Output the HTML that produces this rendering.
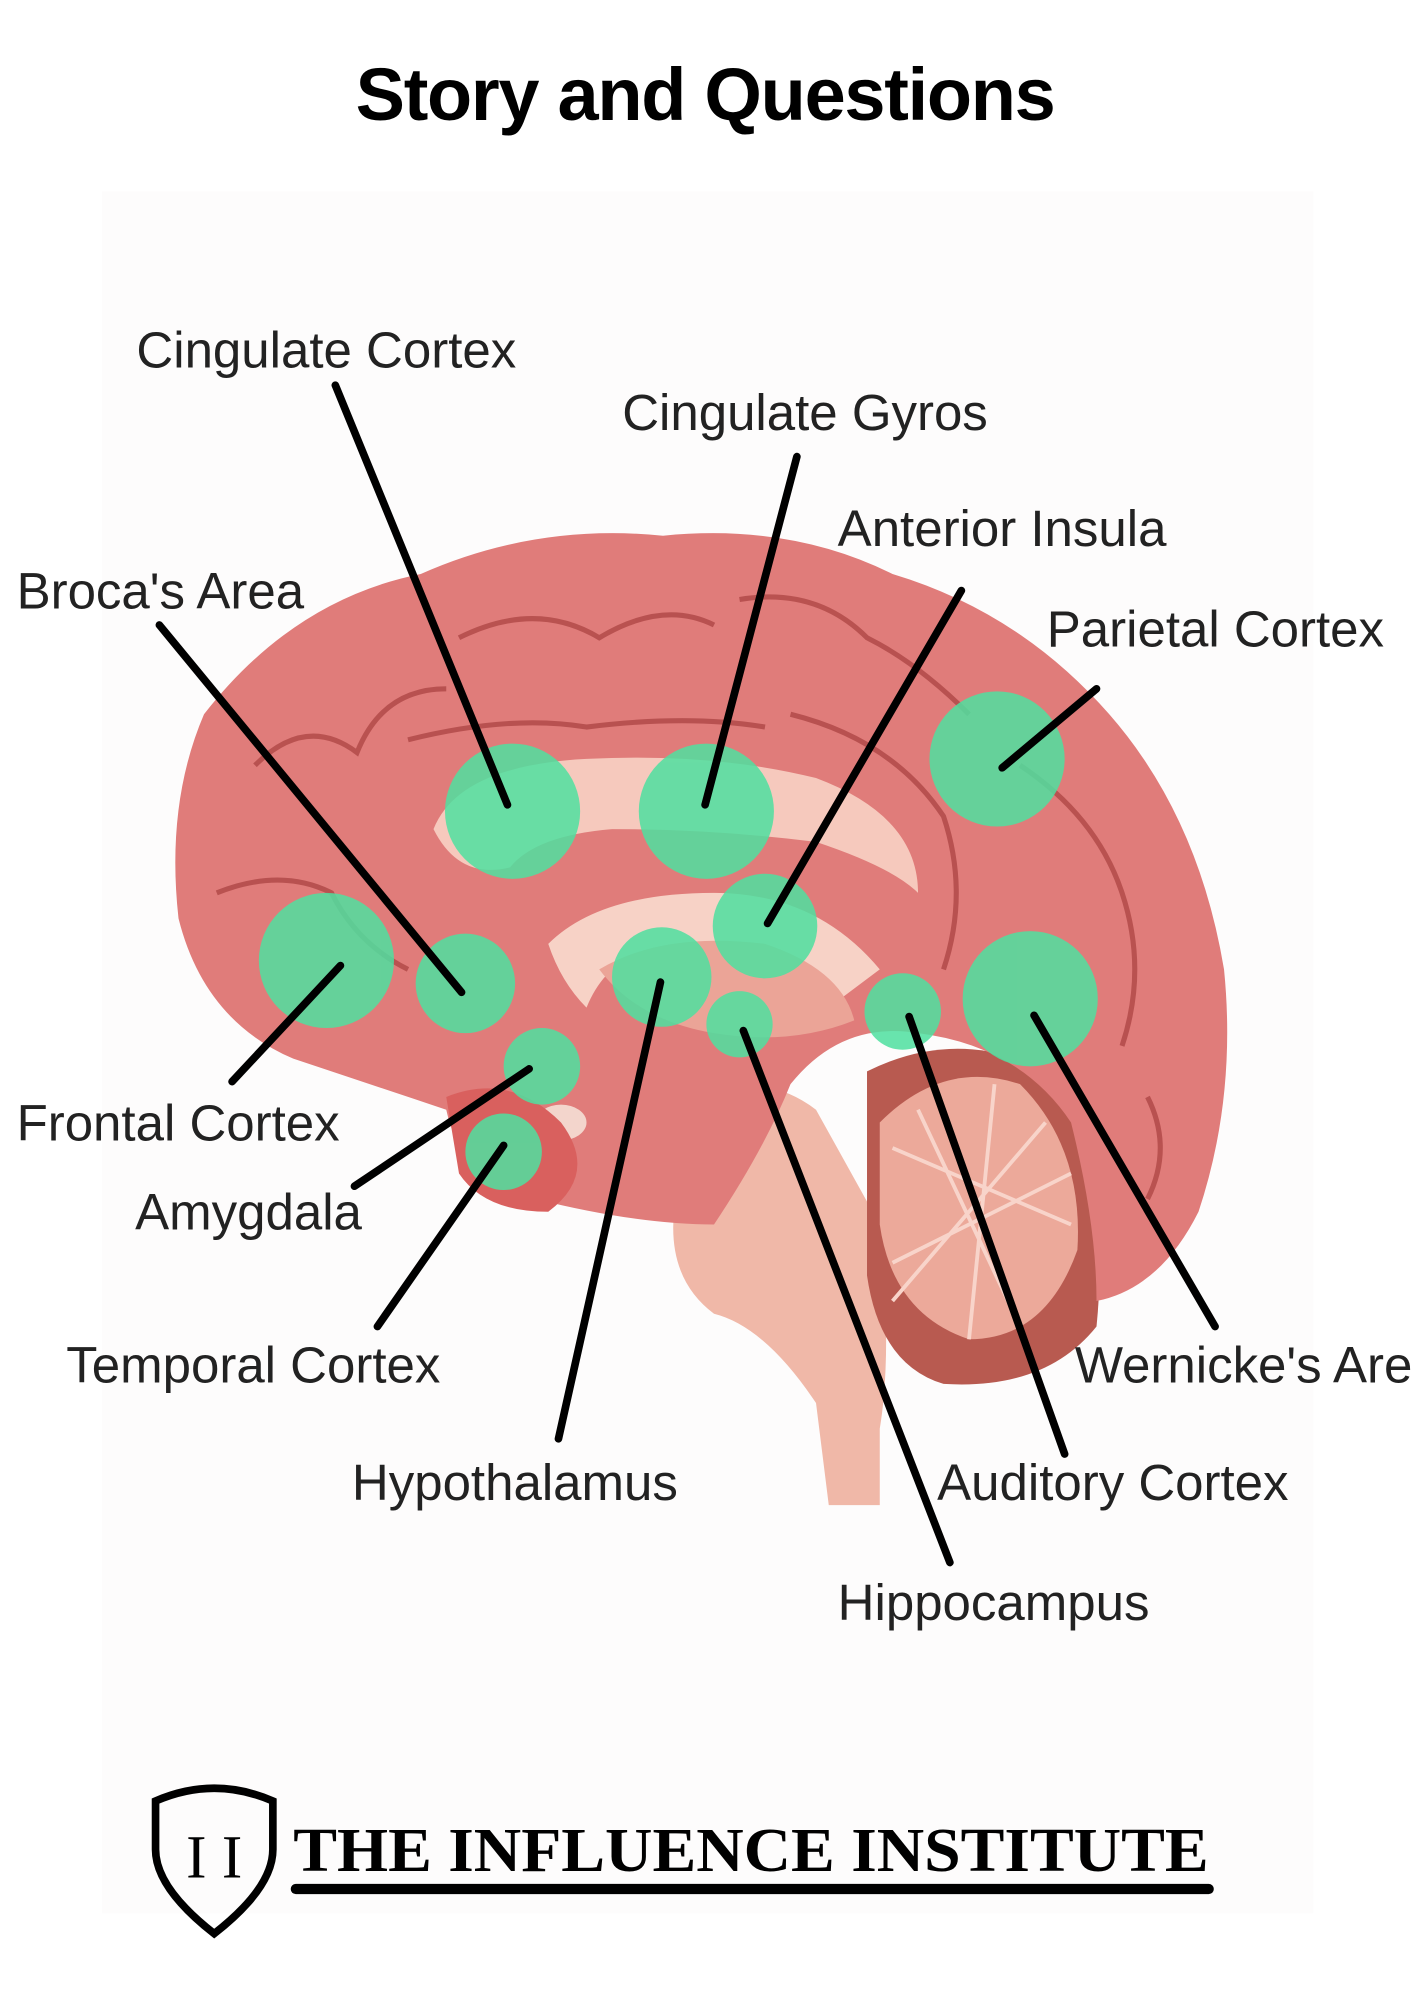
<!DOCTYPE html>
<html><head><meta charset="utf-8"><style>
html,body{margin:0;padding:0;background:#fff;width:1414px;height:2000px;overflow:hidden}
svg{display:block}
text{font-family:"Liberation Sans",sans-serif}
</style></head><body>
<svg width="1414" height="2000" viewBox="0 0 1109 1568" preserveAspectRatio="none">
<rect width="1109" height="1568" fill="#fff"/>
<rect x="80" y="150" width="950" height="1350" fill="#fdfcfc"/>
<text x="553" y="94" text-anchor="middle" font-size="58" font-weight="bold" fill="#000" style="letter-spacing:-1px">Story and Questions</text>
<!-- brainstem -->
<path d="M560 860 Q600 840 640 870 L690 960 Q700 1060 690 1120 L690 1180 L650 1180 L640 1100 Q600 1040 560 1030 Q520 1000 530 940 Z" fill="#f0b8a8"/>
<!-- cerebellum -->
<path d="M680 840 Q760 800 840 850 Q870 940 860 1040 Q820 1090 740 1085 Q690 1070 680 1000 Z" fill="#b85a50"/>
<path d="M690 880 Q740 830 800 850 Q850 900 845 980 Q820 1050 760 1050 Q700 1030 690 960 Z" fill="#eca99a"/>
<g stroke="#f8d4ca" stroke-width="3" fill="none">
<path d="M700 900 L840 960 M720 870 L800 1040 M780 850 L760 1050 M700 990 L840 920 M700 1020 L820 880"/>
</g>
<!-- cerebrum -->
<path d="M160 560 Q230 470 330 450 Q420 410 520 420 Q620 410 700 450 Q800 480 870 560 Q940 640 960 760 Q970 860 940 950 Q910 1010 860 1020 Q860 960 840 880 Q800 820 720 810 Q660 800 620 850 Q600 900 560 960 Q500 960 420 940 Q360 920 350 870 Q290 850 230 830 Q160 800 140 720 Q130 630 160 560 Z" fill="#e07c7a"/>
<g stroke="#a8403f" stroke-width="4" fill="none" opacity=".7">
<path d="M200 600 Q240 560 280 590 Q300 540 350 540"/>
<path d="M360 500 Q420 470 470 500 Q520 470 560 490"/>
<path d="M580 470 Q640 460 680 500 Q720 520 760 560"/>
<path d="M800 600 Q860 640 880 700 Q900 760 880 820"/>
<path d="M170 700 Q220 680 260 700 Q280 740 320 760"/>
<path d="M620 560 Q700 580 740 640 Q760 700 740 760"/>
<path d="M320 580 Q400 560 460 570 Q540 560 600 570"/>
<path d="M900 860 Q920 900 900 940"/>
</g>
<!-- inner structures -->
<path d="M340 650 Q360 600 460 595 Q560 590 640 610 Q720 640 720 700 Q700 680 640 660 Q560 650 480 650 Q420 655 400 680 Q360 690 340 650 Z" fill="#f6c9bd"/>
<path d="M430 740 Q470 700 560 700 Q640 700 690 760 L650 790 Q600 740 540 740 Q480 740 460 790 Q440 770 430 740 Z" fill="#f7d2c6"/>
<path d="M470 760 Q520 730 600 740 Q660 760 670 800 Q620 820 560 810 Q500 800 470 760 Z" fill="#eba497"/>
<ellipse cx="440" cy="880" rx="20" ry="14" fill="#f3d5cc"/>
<path d="M350 860 Q400 840 440 880 Q470 920 430 950 Q380 950 360 920 Z" fill="#d9605e"/>
<!-- green circles -->
<g fill="#4fe0a0" opacity=".85">
<circle cx="402" cy="636" r="53"/>
<circle cx="554" cy="636" r="53"/>
<circle cx="782" cy="595" r="53"/>
<circle cx="600" cy="726" r="41"/>
<circle cx="256" cy="753" r="53"/>
<circle cx="365" cy="771" r="39"/>
<circle cx="519" cy="766" r="39"/>
<circle cx="580" cy="803" r="26"/>
<circle cx="708" cy="793" r="30"/>
<circle cx="808" cy="783" r="53"/>
<circle cx="425" cy="836" r="30"/>
<circle cx="395" cy="903" r="30"/>
</g>
<!-- lines -->
<g stroke="#000" stroke-width="6" stroke-linecap="round">
<line x1="263" y1="302" x2="398" y2="631"/>
<line x1="625" y1="358" x2="553" y2="631"/>
<line x1="754" y1="463" x2="602" y2="724"/>
<line x1="860" y1="540" x2="786" y2="602"/>
<line x1="125" y1="490" x2="362" y2="778"/>
<line x1="182" y1="848" x2="267" y2="757"/>
<line x1="278" y1="930" x2="415" y2="838"/>
<line x1="296" y1="1040" x2="395" y2="898"/>
<line x1="438" y1="1128" x2="518" y2="770"/>
<line x1="745" y1="1225" x2="583" y2="808"/>
<line x1="835" y1="1140" x2="713" y2="797"/>
<line x1="953" y1="1040" x2="811" y2="796"/>
</g>
<g font-size="40" fill="#222">
<text x="107" y="288">Cingulate Cortex</text>
<text x="488" y="337">Cingulate Gyros</text>
<text x="657" y="428">Anterior Insula</text>
<text x="13" y="477">Broca's Area</text>
<text x="821" y="507">Parietal Cortex</text>
<text x="13" y="894">Frontal Cortex</text>
<text x="106" y="964">Amygdala</text>
<text x="52" y="1084">Temporal Cortex</text>
<text x="843" y="1084">Wernicke's Area</text>
<text x="276" y="1176">Hypothalamus</text>
<text x="735" y="1176">Auditory Cortex</text>
<text x="657" y="1270">Hippocampus</text>
</g>
<!-- logo -->
<path d="M122 1412 Q168 1392 214 1412 L214 1450 Q214 1480 168 1516 Q122 1480 122 1450 Z" fill="none" stroke="#000" stroke-width="6"/>
<text x="168" y="1472" text-anchor="middle" font-size="48" fill="#000" style="font-family:'Liberation Serif',serif">I I</text>
<text x="230" y="1467" font-size="49" font-weight="bold" fill="#000" style="font-family:'Liberation Serif',serif" textLength="718" lengthAdjust="spacingAndGlyphs">THE INFLUENCE INSTITUTE</text>
<rect x="228" y="1477" width="724" height="8" rx="4" fill="#000"/>
</svg>
</body></html>
